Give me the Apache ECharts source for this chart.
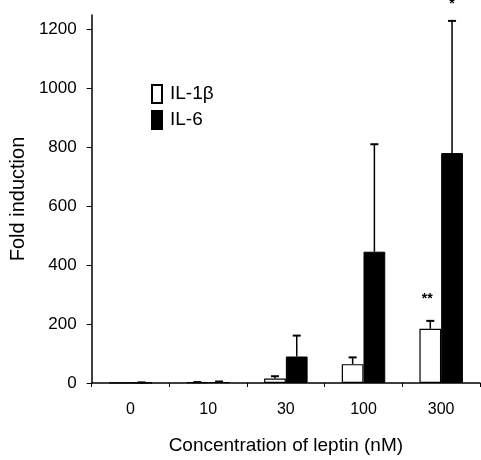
<!DOCTYPE html>
<html>
<head>
<meta charset="utf-8">
<script src="https://cdn.jsdelivr.net/npm/echarts@6/dist/echarts.min.js"></script>
<style>
  html, body { margin: 0; padding: 0; background: #fff; }
  #chart { width: 481px; height: 460px; }
</style>
</head>
<body>
<div id="chart"></div>
<script>
// leptin concentrations (nM)
const categories = ['0', '10', '30', '100', '300']
// IL-1β fold induction, mean and upper SD
const il1bMean = [1, 2, 15, 64, 184]
const il1bErr = [0, 1, 8, 23, 27]
const il1bSig = ['', '', '', '', '**']
// IL-6 fold induction, mean and upper SD
const il6Mean = [1, 3, 90, 446, 781]
const il6Err = [1, 2, 71, 365, 449]
const il6Sig = ['', '', '', '', '*']
const yTicks = [0, 200, 400, 600, 800, 1000, 1200]

const font = '"Liberation Sans", Arial, sans-serif'
const catGap = 0.44

const errorSeries = (mean, err, sig, side) => ({
  type: 'custom',
  silent: true,
  z: 5,
  data: mean.map((v, i) => [i, v, err[i]]),
  renderItem: (params, api) => {
    const i = api.value(0)
    const v = api.value(1)
    const e = api.value(2)
    const catW = api.size([1, 0])[0]
    const barW = (catW * (1 - catGap)) / 2
    const base = api.coord([i, v])
    const top = api.coord([i, v + e])
    const x = base[0] + (side * barW) / 2
    const children = []
    if (e > 0) {
      children.push({
        type: 'line',
        shape: { x1: x, y1: base[1], x2: x, y2: top[1] },
        style: { stroke: '#000', lineWidth: 1.5 }
      })
      children.push({
        type: 'line',
        shape: { x1: x - 4, y1: top[1], x2: x + 4, y2: top[1] },
        style: { stroke: '#000', lineWidth: 2 }
      })
    }
    const s = sig[i]
    if (s) {
      children.push({
        type: 'text',
        style: {
          text: s,
          x: side < 0 ? x - 3 : x,
          y: side < 0 ? top[1] - 22 : top[1] - 17,
          align: 'center',
          verticalAlign: 'middle',
          font: 'bold 14px ' + font,
          fill: '#000'
        }
      })
    }
    return { type: 'group', children }
  }
})

const myChart = echarts.init(document.getElementById('chart'))
const option = {
  animation: false,
  textStyle: { fontFamily: font },
  grid: {
    left: 88,
    right: 1,
    top: 15,
    bottom: 71
  },
  legend: {
    orient: 'vertical',
    left: 146,
    top: 79,
    itemWidth: 10,
    itemHeight: 18,
    itemGap: 6,
    textStyle: { color: '#000', fontSize: 19, fontFamily: font, padding: [0, 0, 0, 3] },
    data: [
      { name: 'IL-1β', icon: 'rect' },
      { name: 'IL-6', icon: 'rect' }
    ]
  },
  xAxis: {
    type: 'category',
    data: categories,
    name: 'Concentration of leptin (nM)',
    nameLocation: 'middle',
    nameGap: 53,
    nameTextStyle: { color: '#000', fontSize: 19, fontFamily: font },
    axisLine: { lineStyle: { color: '#000', width: 1.5 } },
    axisTick: { show: true, length: 4, lineStyle: { color: '#000' } },
    axisLabel: { color: '#000', fontSize: 16, margin: 19, fontFamily: font },
    splitLine: { show: false }
  },
  yAxis: {
    type: 'value',
    min: 0,
    max: 1250,
    interval: 50,
    name: 'Fold induction',
    nameLocation: 'middle',
    nameGap: 63,
    nameTextStyle: { color: '#000', fontSize: 20, fontFamily: font },
    axisLine: { show: true, lineStyle: { color: '#000', width: 1.5 } },
    axisTick: { show: true, length: 5, customValues: yTicks, lineStyle: { color: '#000' } },
    axisLabel: {
      color: '#000',
      fontSize: 17,
      margin: 15,
      customValues: yTicks,
      fontFamily: font,
      formatter: (value) => String(value)
    },
    splitLine: { show: false }
  },
  series: [
    {
      name: 'IL-1β',
      type: 'bar',
      data: il1bMean,
      barGap: 0,
      barCategoryGap: catGap * 100 + '%',
      itemStyle: { color: '#fff', borderColor: '#000', borderWidth: 1.2 }
    },
    {
      name: 'IL-6',
      type: 'bar',
      data: il6Mean,
      barGap: 0,
      barCategoryGap: catGap * 100 + '%',
      itemStyle: { color: '#000', borderColor: '#000', borderWidth: 1 }
    },
    errorSeries(il1bMean, il1bErr, il1bSig, -1),
    errorSeries(il6Mean, il6Err, il6Sig, 1)
  ]
}
myChart.setOption(option)
</script>
</body>
</html>
